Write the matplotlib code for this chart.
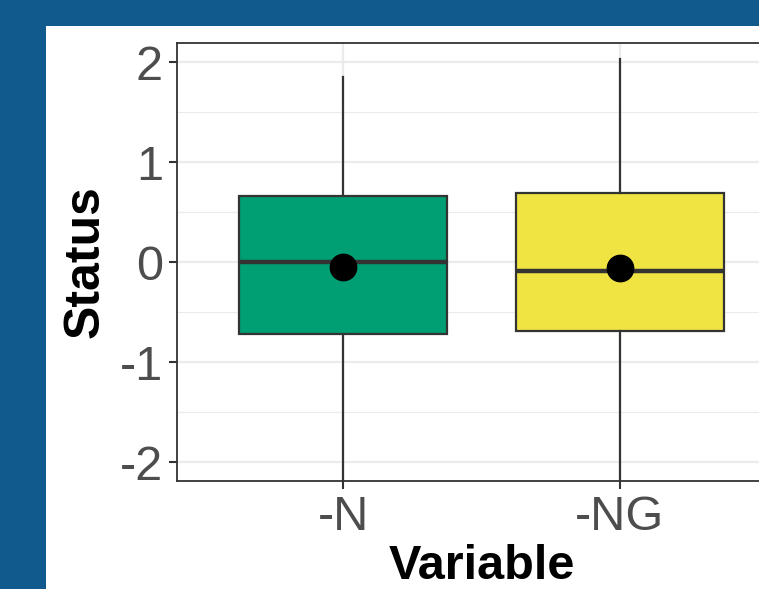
import numpy as np
import matplotlib
matplotlib.use("Agg")
import matplotlib.pyplot as plt
from matplotlib.patches import Rectangle

# box stats
cats = ['-N', '-NG']
q1 = [-0.72, -0.69]
med = [0.005, -0.09]
q3 = [0.66, 0.69]
whislo = [-2.3, -2.3]
whishi = [1.85, 2.03]
means = [-0.05, -0.06]
colors = ['#009E73', '#F0E442']

plt.rcParams['font.family'] = ['Liberation Sans', 'DejaVu Sans']

fig = plt.figure(figsize=(7.59, 5.89), dpi=100)
fig.patch.set_facecolor('#115A8E')
# white card behind the plot
fig.patches.append(Rectangle((46 / 759, 0), 1, 1 - 26 / 589, transform=fig.transFigure,
                             facecolor='white', edgecolor='none', zorder=-5))

ax = fig.add_axes([177 / 759, 108 / 589, 609 / 759, 438 / 589])
ax.set_facecolor('white')

stats = []
for i in range(len(cats)):
    stats.append(dict(label=cats[i], q1=q1[i], med=med[i], q3=q3[i],
                      whislo=whislo[i], whishi=whishi[i], mean=means[i], fliers=[]))

pos = np.arange(1, len(cats) + 1)
bp = ax.bxp(stats, positions=pos, widths=0.75, patch_artist=True, showcaps=False,
            showmeans=True, manage_ticks=False,
            boxprops=dict(edgecolor='#333333', linewidth=1.6),
            whiskerprops=dict(color='#333333', linewidth=1.6),
            medianprops=dict(color='#333333', linewidth=3.2),
            meanprops=dict(marker='o', markerfacecolor='black', markeredgecolor='black',
                           markersize=19))
for patch, c in zip(bp['boxes'], colors):
    patch.set_facecolor(c)
for w in bp['whiskers']:
    w.set_clip_on(True)

ax.set_xlim(0.4, 2.6)
ax.set_ylim(-2.19, 2.19)
ax.set_xticks(pos)
ax.set_xticklabels(cats)
ax.set_yticks([-2, -1, 0, 1, 2])
ax.set_yticklabels(['-2', '-1', '0', '1', '2'])
ax.set_yticks(np.arange(-1.5, 2, 1.0), minor=True)

ax.grid(which='major', color='#EBEBEB', linewidth=1.6, zorder=0)
ax.grid(which='minor', axis='y', color='#EBEBEB', linewidth=0.8, zorder=0)
ax.set_axisbelow(True)

for s in ax.spines.values():
    s.set_color('#333333')
    s.set_linewidth(1.3)

ax.tick_params(axis='both', which='major', length=6, width=1.5, color='#333333',
               labelsize=35, labelcolor='#4D4D4D', pad=4)
ax.tick_params(which='minor', length=0)

ax.set_xlabel('Variable', fontsize=35, fontweight='bold', color='black', labelpad=3)
ax.set_ylabel('Status', fontsize=36, fontweight='bold', color='black', labelpad=8)

fig.savefig('out.png', dpi=100, facecolor=fig.get_facecolor())
